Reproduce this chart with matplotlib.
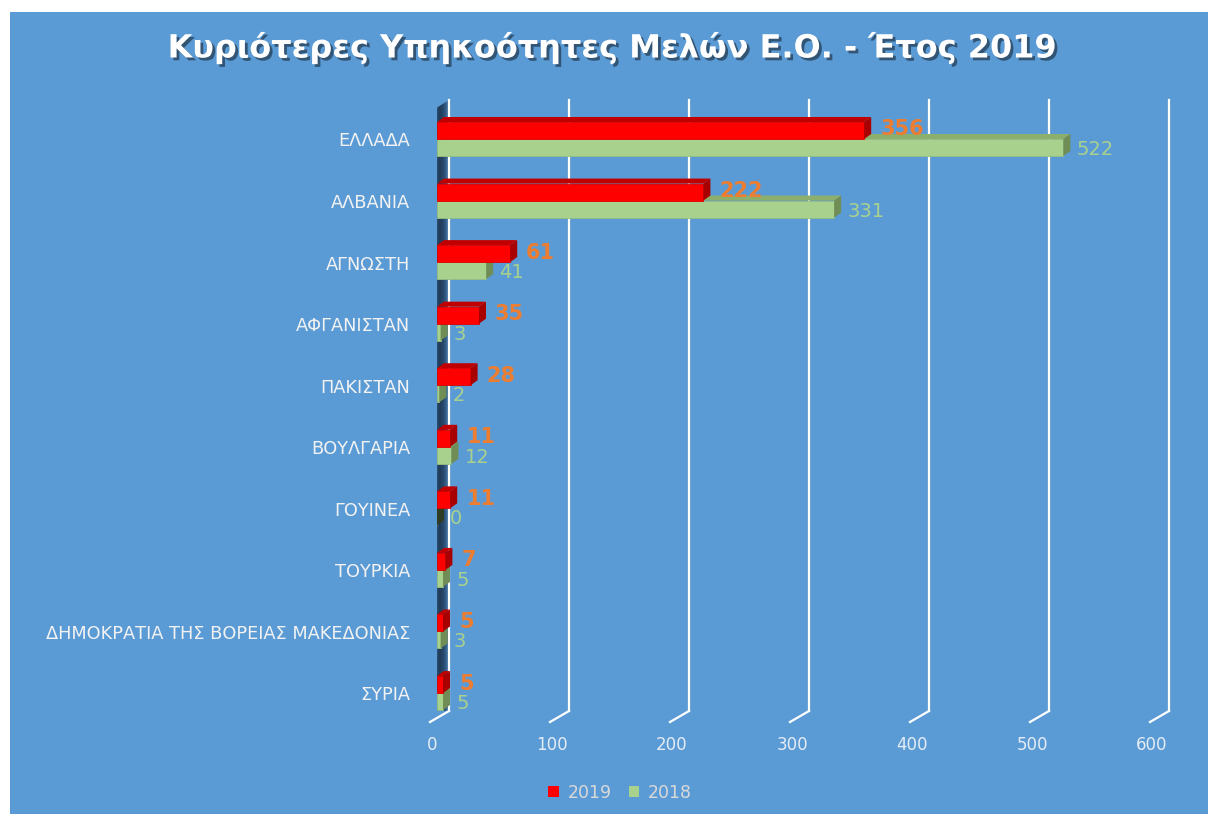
import numpy as np
import matplotlib
matplotlib.use('Agg')
import matplotlib.pyplot as plt
from matplotlib.patches import Rectangle, Polygon, Patch
from matplotlib.colors import LinearSegmentedColormap
import matplotlib.patheffects as pe

# data
countries = ['ΕΛΛΑΔΑ', 'ΑΛΒΑΝΙΑ', 'ΑΓΝΩΣΤΗ', 'ΑΦΓΑΝΙΣΤΑΝ', 'ΠΑΚΙΣΤΑΝ', 'ΒΟΥΛΓΑΡΙΑ',
             'ΓΟΥΙΝΕΑ', 'ΤΟΥΡΚΙΑ', 'ΔΗΜΟΚΡΑΤΙΑ ΤΗΣ ΒΟΡΕΙΑΣ ΜΑΚΕΔΟΝΙΑΣ', 'ΣΥΡΙΑ']
v2019 = [356, 222, 61, 35, 28, 11, 11, 7, 5, 5]
v2018 = [522, 331, 41, 3, 2, 12, 0, 5, 3, 5]
xticks = [0, 100, 200, 300, 400, 500, 600]
title = 'Κυριότερες Υπηκοότητες Μελών Ε.Ο. - Έτος 2019'

plt.rcParams['font.family'] = ['DejaVu Sans']

W, H = 1208, 814
BLUE = '#5B9BD5'
fig = plt.figure(figsize=(W / 100, H / 100), dpi=100)
fig.patch.set_facecolor('white')
fig.add_artist(Rectangle((10 / W, 0), 1, (H - 12) / H, transform=fig.transFigure,
                         facecolor=BLUE, edgecolor='none', zorder=0))

ax = fig.add_axes([437 / W, (H - 711) / H, 720 / W, 611 / H])
ax.set_xlim(0, 600)
ytop, ybot = -0.6335, 9.292
ax.set_ylim(ybot, ytop)
ax.axis('off')

# pixels per data unit
sx = 720 / 600
sy = 611 / (ybot - ytop)

# back wall on the left (gradient)
wx0, wx1 = -7 / sx, 12 / sx
wall = Polygon([(wx0, ytop + 12 / sy), (wx1, ytop), (wx1, ybot), (wx0, ybot + 11 / sy)],
               closed=True, facecolor='none', edgecolor='none')
ax.add_patch(wall)
wcmap = LinearSegmentedColormap.from_list('w', [BLUE, '#3a6690', '#1f3a57', '#2a4d72', '#4a7fb0'])
im = ax.imshow(np.linspace(0, 1, 64).reshape(1, -1), cmap=wcmap, aspect='auto',
               extent=(wx0, wx1, ybot + 11 / sy, ytop), zorder=1)
im.set_clip_path(wall)

# gridlines (back plane) with slanted feet
for t in xticks:
    bx = t + 12 / sx
    fx = t - 7 / sx
    ax.plot([bx, bx], [ytop, ybot], color='white', lw=1.6, clip_on=False, zorder=2)
    ax.plot([bx, fx], [ybot, ybot + 11 / sy], color='white', lw=1.6, clip_on=False, zorder=2)
    ax.text(t - 5 / sx, ybot + 34 / sy, str(t), ha='center', va='center',
            color='#E4ECF5', fontsize=12)

y = np.arange(len(countries))
bh = 17 / sy
ddx, ddy = 7 / sx, -5 / sy

# 2018 bars (green)
ax.barh(y + bh / 2, v2018, height=bh, color='#A9D18E', edgecolor='#98BE7E', lw=0.6, zorder=4)
for i, v in enumerate(v2018):
    y0, y1 = i, i + bh
    ax.add_patch(Polygon([(0, y0), (v, y0), (v + ddx, y0 + ddy), (ddx, y0 + ddy)],
                         facecolor='#8DAF6E', edgecolor='none', zorder=3))
    ax.add_patch(Polygon([(v, y0), (v, y1), (v + ddx, y1 + ddy), (v + ddx, y0 + ddy)],
                         facecolor='#6F8D55' if v > 0 else '#2F3B22', edgecolor='none', zorder=4))
    ax.text(v + 13 / sx, i + bh / 2 + 2 / sy, str(v), ha='left', va='center',
            color='#A9D18E', fontsize=14, zorder=6)

# 2019 bars (red)
ax.barh(y - bh / 2, v2019, height=bh, color='#FF0000', edgecolor='#E00000', lw=0.6, zorder=5)
for i, v in enumerate(v2019):
    y0, y1 = i - bh, i
    ax.add_patch(Polygon([(0, y0), (v, y0), (v + ddx, y0 + ddy), (ddx, y0 + ddy)],
                         facecolor='#C00000', edgecolor='none', zorder=5))
    ax.add_patch(Polygon([(v, y0), (v, y1), (v + ddx, y1 + ddy), (v + ddx, y0 + ddy)],
                         facecolor='#A80000', edgecolor='none', zorder=5))
    ax.text(v + 16 / sx, i - bh / 2 - 1 / sy, str(v), ha='left', va='center',
            color='#ED7D31', fontsize=15, fontweight='bold', zorder=6)

# category labels
for i, name in enumerate(countries):
    ax.text(-27 / sx, i + 0.04, name, ha='right', va='center',
            color='#F2F2F2', fontsize=12.8)

# title
fig.text(613 / W, 1 - 48 / H, title, ha='center', va='center', color='white',
         fontsize=23, fontweight='bold',
         path_effects=[pe.withSimplePatchShadow(offset=(2, -2), shadow_rgbFace='black', alpha=0.45)])

# legend
handles = [Patch(facecolor='#FF0000', label='2019'), Patch(facecolor='#A9D18E', label='2018')]
fig.legend(handles=handles, loc='center', bbox_to_anchor=(620 / W, 1 - 793 / H), ncol=2,
           frameon=False, handlelength=0.6, handleheight=0.6, handletextpad=0.5,
           columnspacing=1.0, fontsize=12.5, labelcolor='#D9D9D9')

fig.savefig('out.png', dpi=100, facecolor=fig.get_facecolor())
